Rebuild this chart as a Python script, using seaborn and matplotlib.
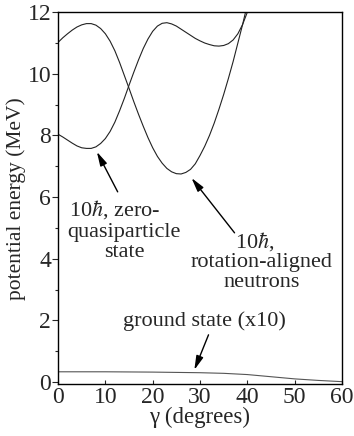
import numpy as np
import matplotlib
matplotlib.use("Agg")
import matplotlib.pyplot as plt
import seaborn as sns
from matplotlib.ticker import MultipleLocator

# gamma grid for the two 10hbar curves (degrees)
gamma_a = list(range(0, 43))
# 10hbar, zero-quasiparticle state (MeV)
e_zero_qp = [8.04, 7.95, 7.85, 7.75, 7.66, 7.6, 7.58, 7.58, 7.63, 7.74, 7.9, 8.13, 8.43,
             8.8, 9.2, 9.63, 10.05, 10.45, 10.82, 11.13, 11.38, 11.55, 11.64, 11.66, 11.62,
             11.55, 11.45, 11.35, 11.25, 11.15, 11.07, 11.0, 10.95, 10.91, 10.9, 10.92,
             10.98, 11.1, 11.3, 11.6, 12.0, 12.45, 12.9]
gamma_b = list(range(0, 42))
# 10hbar, rotation-aligned neutrons (MeV)
e_aligned = [11.02, 11.17, 11.3, 11.42, 11.52, 11.59, 11.63, 11.63, 11.58, 11.47, 11.3,
             11.06, 10.75, 10.37, 9.95, 9.53, 9.1, 8.69, 8.3, 7.93, 7.6, 7.32, 7.1, 6.93,
             6.82, 6.76, 6.75, 6.8, 6.9, 7.08, 7.35, 7.65, 8.0, 8.4, 8.85, 9.33, 9.85,
             10.4, 11.0, 11.6, 12.25, 12.9]
# ground state (x10)
gamma_gs = [0, 10, 20, 30, 35, 40, 45, 50, 55, 60]
e_ground = [0.33, 0.33, 0.32, 0.30, 0.28, 0.24, 0.17, 0.10, 0.05, 0.01]

sns.set_style("ticks")
plt.rcParams['font.family'] = ['Liberation Serif', 'DejaVu Serif']
plt.rcParams['mathtext.fontset'] = 'stix'

fig = plt.figure(figsize=(3.54, 4.36), dpi=100)
ax = fig.add_axes([0.164, 0.119, 0.802, 0.853])

sns.lineplot(x=gamma_a, y=e_zero_qp, ax=ax, color='#222222', lw=0.8)
sns.lineplot(x=gamma_b, y=e_aligned, ax=ax, color='#222222', lw=0.8)
sns.lineplot(x=gamma_gs, y=e_ground, ax=ax, color='#555555', lw=0.8)

ax.set_xlim(0, 60)
ax.set_ylim(-0.07, 12)
ax.xaxis.set_major_locator(MultipleLocator(10))
ax.yaxis.set_major_locator(MultipleLocator(2))
ax.yaxis.set_minor_locator(MultipleLocator(1))
ax.tick_params(axis='x', direction='in', length=3, width=0.8, labelsize=17, pad=2)
ax.tick_params(axis='y', which='major', direction='out', length=4, width=0.8, labelsize=17, pad=1)
ax.tick_params(axis='y', which='minor', direction='out', length=2.5, width=0.8)
for s in ax.spines.values():
    s.set_linewidth(1.0)
    s.set_color('black')

ax.set_xlabel("γ (degrees)", fontsize=16.5, labelpad=-1)
ax.set_ylabel("potential energy (MeV)", fontsize=15.5, labelpad=1)

fs = 16
arrow = dict(arrowstyle='-|>,head_length=0.7,head_width=0.18', color='black',
             lw=1.0, mutation_scale=12, shrinkA=0, shrinkB=0)
ax.text(12.0, 5.6, r"10$\hbar$, zero-", fontsize=fs, ha='center', va='center')
ax.text(14.0, 4.85, "quasiparticle", fontsize=fs, ha='center', va='center')
ax.text(14.0, 4.2, "state", fontsize=fs, ha='center', va='center')
ax.annotate("", xy=(8.2, 7.47), xytext=(12.6, 6.17), arrowprops=arrow)

ax.text(41.5, 4.55, r"10$\hbar$,", fontsize=fs, ha='center', va='center')
ax.text(43.0, 3.88, "rotation-aligned", fontsize=fs, ha='center', va='center')
ax.text(43.0, 3.22, "neutrons", fontsize=fs, ha='center', va='center')
ax.annotate("", xy=(28.2, 6.62), xytext=(37.3, 4.84), arrowprops=arrow)

ax.text(31.0, 1.97, "ground state (x10)", fontsize=fs, ha='center', va='center')
ax.annotate("", xy=(28.8, 0.39), xytext=(31.8, 1.53), arrowprops=arrow)

fig.savefig("out.png", dpi=100)
